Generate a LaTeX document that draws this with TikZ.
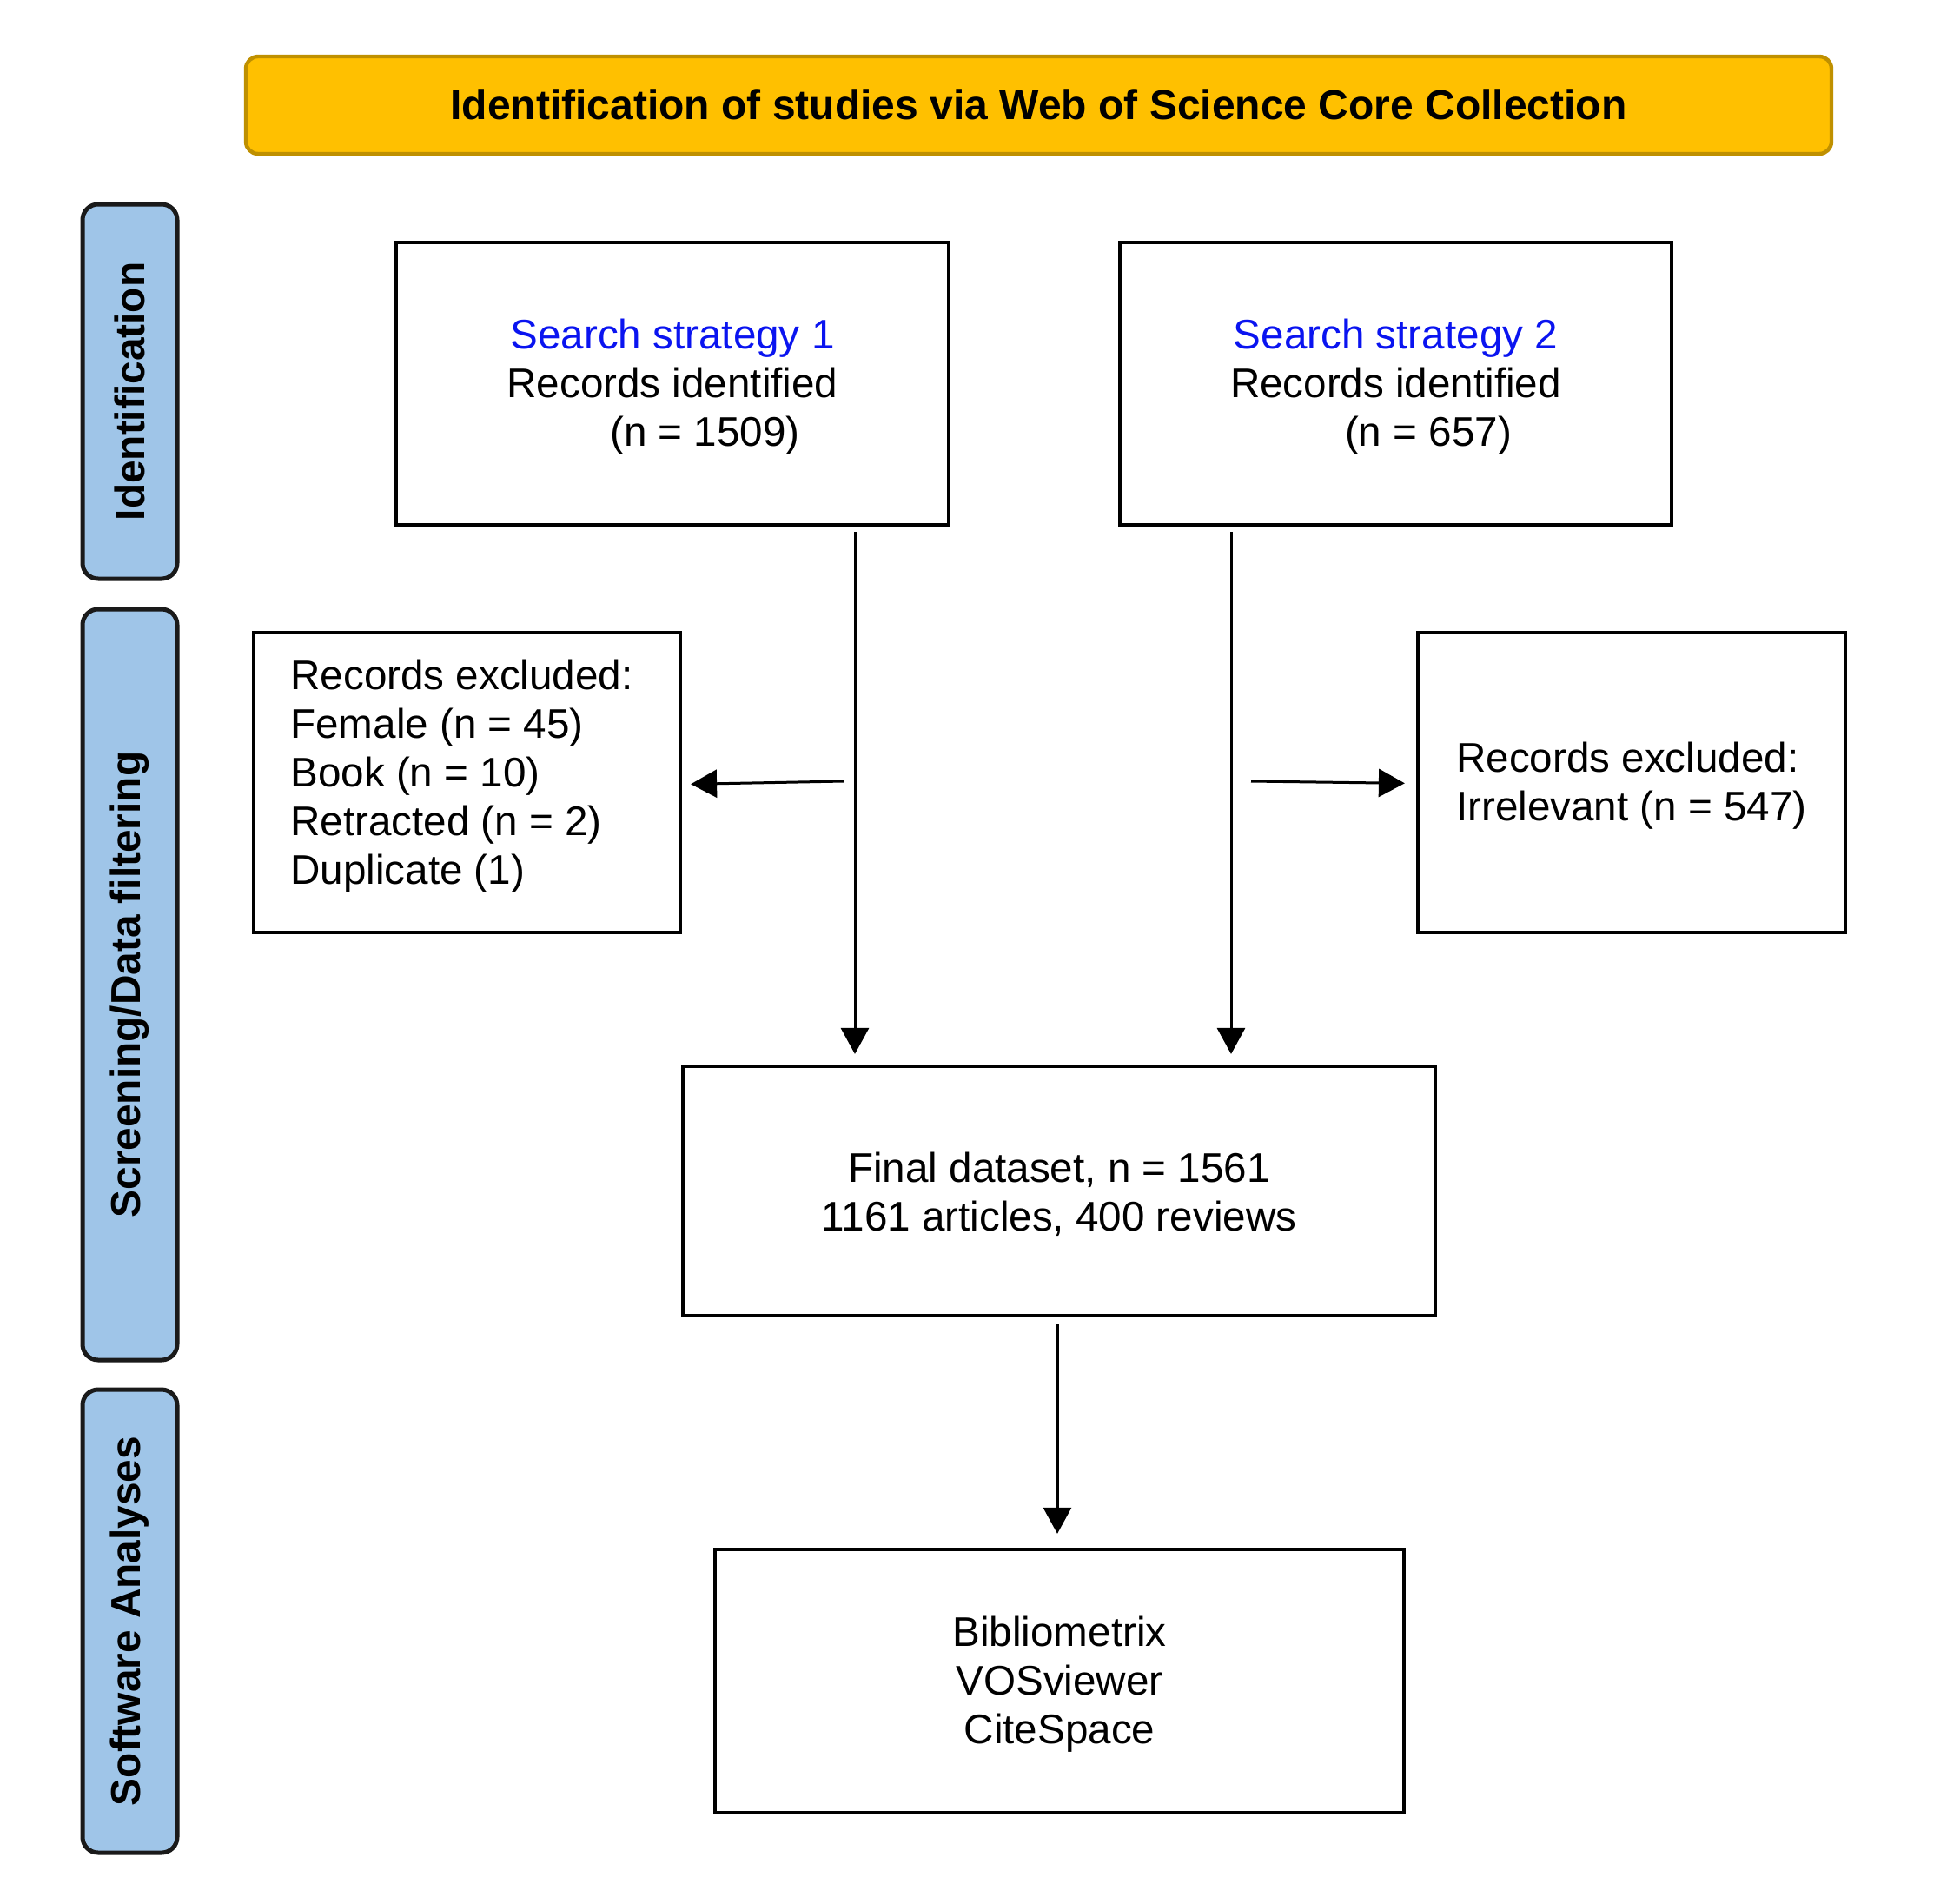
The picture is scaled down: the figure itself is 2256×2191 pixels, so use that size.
\documentclass[tikz,border=0pt]{standalone}
\usepackage{fontspec}
\setmainfont{Liberation Sans}
\usetikzlibrary{arrows.meta}
\definecolor{bannerfill}{HTML}{FFC000}
\definecolor{bannerdraw}{HTML}{BF9000}
\definecolor{phasefill}{HTML}{9FC5E8}
\definecolor{phasedraw}{HTML}{1A1A1A}
\definecolor{searchblue}{HTML}{0A14F0}
\tikzset{
  banner/.style={draw=bannerdraw, fill=bannerfill, line width=2.2pt, rounded corners=7pt,
    inner sep=0pt},
  bannertext/.style={inner sep=0pt, font=\fontsize{24}{28}\selectfont\bfseries},
  phase/.style={draw=phasedraw, fill=phasefill, line width=2.5pt, rounded corners=9pt,
    inner sep=0pt, minimum width=54.5pt},
  phasetext/.style={rotate=90, inner sep=0pt, font=\fontsize{23.9}{28}\selectfont\bfseries},
  stepbox/.style={draw=black, line width=2.1pt, inner sep=0pt},
  boxtext/.style={inner sep=0pt, align=center, font=\fontsize{23.8}{28}\selectfont},
  plaintext/.style={inner sep=0pt, align=left, font=\fontsize{23.8}{28}\selectfont},
  arr/.style={line width=1.5pt, -{Triangle[length=15pt,width=16pt]}}
}
\begin{document}
\begin{tikzpicture}[x=0.5pt,y=-0.5pt]
\useasboundingbox (0,0) rectangle (2256,2191);
\fill[white] (0,0) rectangle (2256,2191);

% banner
\node[banner, minimum width=912.5pt, minimum height=56pt] (ban) at (1195.5,121) {};
\node[bannertext] (bant) at ([yshift=0.5pt]ban.center)
  {Identification of studies via Web of Science Core Collection};

% phase labels
\node[phase, minimum height=215.5pt] (ph1) at (149.5,450.5) {};
\node[phasetext] (ph1t) at (ph1.center) {Identification};
\node[phase, minimum height=432pt] (ph2) at (149.5,1133) {};
\node[phasetext] (ph2t) at (ph2.center) {Screening/Data filtering};
\node[phase, minimum height=266.5pt] (ph3) at (149.5,1865.5) {};
\node[phasetext] (ph3t) at (ph3.center) {Software Analyses};

% search boxes
\node[stepbox, minimum width=318pt, minimum height=162.5pt] (s1) at (774,441.5) {};
\node[boxtext] (s1t) at ([yshift=-2pt]s1.center)
  {\textcolor{searchblue}{Search strategy 1}\\Records identified\\\hspace*{37.5pt}(n = 1509)};
\node[stepbox, minimum width=317.5pt, minimum height=162.5pt] (s2) at (1606.5,441.5) {};
\node[boxtext] (s2t) at ([yshift=-2pt]s2.center)
  {\textcolor{searchblue}{Search strategy 2}\\Records identified\\\hspace*{37.5pt}(n = 657)};

% excluded boxes
\node[stepbox, minimum width=245.5pt, minimum height=172.5pt] (ex1) at (537.5,900.5) {};
\node[plaintext, anchor=west] (ex1t) at (334,893)
  {Records excluded:\\Female (n = 45)\\Book (n = 10)\\Retracted (n = 2)\\Duplicate (1)};
\node[stepbox, minimum width=246pt, minimum height=172.5pt] (ex2) at (1878,900.5) {};
\node[plaintext] (ex2t) at ([yshift=-2pt]ex2.center)
  {Records excluded:\\Irrelevant (n = 547)};

% final dataset
\node[stepbox, minimum width=433pt, minimum height=143.5pt] (fin) at (1219,1370.5) {};
\node[boxtext] (fint) at ([yshift=-2pt]fin.center)
  {Final dataset, n = 1561\\1161 articles, 400 reviews};

% software
\node[stepbox, minimum width=396.5pt, minimum height=151.5pt] (sw) at (1219.5,1934.5) {};
\node[boxtext] (swt) at ([yshift=-2pt]sw.center)
  {Bibliometrix\\VOSviewer\\CiteSpace};

% connectors
\coordinate (v1s) at (984,612);
\coordinate (v2s) at (1417,612);
\coordinate (h1s) at (971,899);
\coordinate (h2s) at (1440,899);
\coordinate (v3s) at (1217,1523);
\draw[arr, shorten >=6pt] (v1s) -- (v1s |- fin.north);
\draw[arr, shorten >=6pt] (v2s) -- (v2s |- fin.north);
\draw[arr, shorten >=5pt] (h1s) -- ([yshift=-1pt]ex1.east);
\draw[arr, shorten >=6.5pt] (h2s) -- ([yshift=-0.5pt]ex2.west);
\draw[arr, shorten >=8pt] (v3s) -- (v3s |- sw.north);
\end{tikzpicture}
\end{document}
